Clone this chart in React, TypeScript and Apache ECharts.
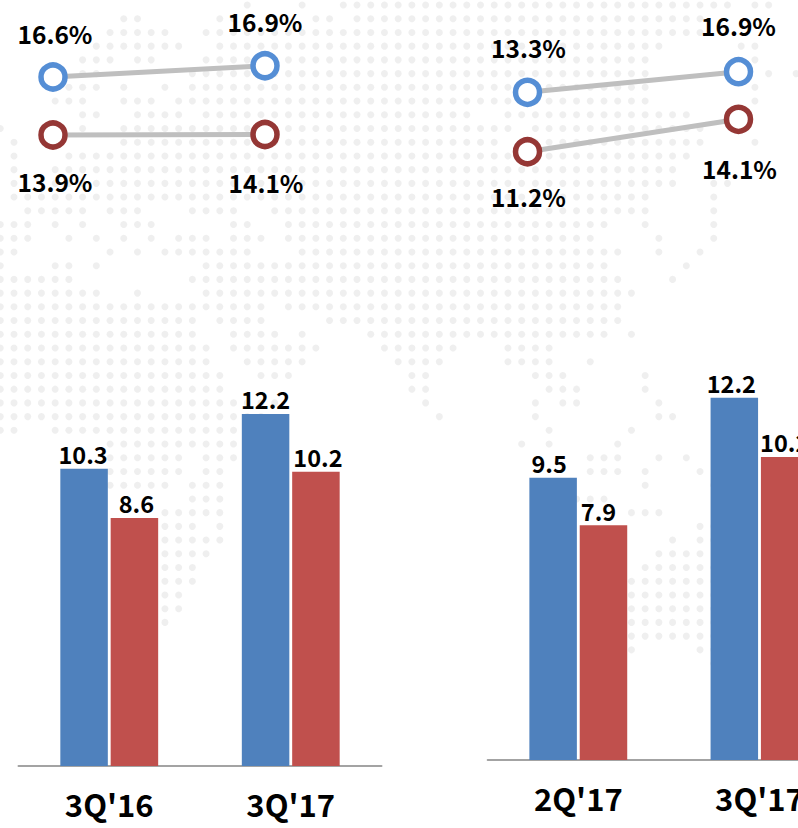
import React, { useEffect, useRef } from "react";
import * as echarts from "echarts";

const leftCategories = ["3Q'16", "3Q'17"];
const rightCategories = ["2Q'17", "3Q'17"];
const leftBlueBars = [10.3, 12.2];
const leftRedBars = [8.6, 10.2];
const rightBlueBars = [9.5, 12.2];
const rightRedBars = [7.9, 10.2];
const leftBlueRates = [16.6, 16.9];
const leftRedRates = [13.9, 14.1];
const rightBlueRates = [13.3, 16.9];
const rightRedRates = [11.2, 14.1];

// Background world-map dots: occupied column ranges for each dot row.
const mapRows = [
  "18,22,25-53,55,56",
  "9,10,16,17,23,24,26-51",
  "8-12,15-51",
  "7-13,16-48,54,55",
  "6-8,10,11,15-47,55",
  "6,7,14-47,56,58",
  "5-7,9,12,14-47,55",
  "4-6,9-11,13-47,55",
  "6,7,10-13,15-34,37-50",
  "0,6,9-37,39-51",
  "1,9-36,38-51,55",
  "1,5-50",
  "1,4-49",
  "1,4-49,52,53",
  "1-47,52",
  "2-6,8-10,14-17,20-47,52",
  "0-2,4,6,9-11,17,18,21-44,47,52",
  "0-2,5,7,9,11,13-15,17-19,21-43,48,52",
  "0,1,8,10,12-18,22-45,48,51",
  "0,4,5,7,15-44,50",
  "0-5,14-45,49",
  "0-7,10,15-46",
  "0-19,21-45",
  "0-14,16-19,24-45",
  "0-14,17-20,22,27-44,46",
  "0-15,17-23,28-33,37-40",
  "0-15,18-22,29-32,37-40,43",
  "0-16,19-21,30,31,39-41,47",
  "0-16,30,31,40-42,47",
  "0-20,31,39,41,42,48",
  "0-19,32,39,48,49",
  "0,1,4-17,40,46",
  "8-17,38,40,45",
  "8-13,15-17,43-45,48,50",
  "8-13,15,16,43-45,47,51",
  "8-12,14-16,47,52",
  "14-16,42-44",
  "12-16,46-48",
  "12-14,16,51,52",
  "12-16,49,51,52",
  "12-15,48-51",
  "12-14,47-52",
  "12-14,46-52",
  "12,13,46-52",
  "12,13,46-52",
  "12,46-52",
  "46-52",
  "46,51,52",
  "52",
];

const FONT = "'Noto Sans CJK KR', sans-serif";
const BLUE_BAR = "#4f81bd";
const RED_BAR = "#c0504d";
const BLUE_RING = "#558ed5";
const RED_RING = "#953735";

function expandMap(rows: string[]): number[][] {
  const out: number[][] = [];
  rows.forEach((row, r) => {
    row.split(",").forEach((part) => {
      const [a, b] = part.split("-").map(Number);
      for (let c = a; c <= (b ?? a); c++) out.push([c, r]);
    });
  });
  return out;
}

function buildOption() {
  const lineGrids = [
    { left: 53, width: 212, min: 13.335, max: 18.645 },
    { left: 53, width: 212, min: -12.1, max: 67.9 },
    { left: 527.5, width: 211, min: -5.53, max: 29.44 },
    { left: 527.5, width: 211, min: 6.88, max: 24.78 },
  ];
  const lineSeries = [
    { data: leftBlueRates, color: BLUE_RING, up: true, gaps: [17, 17], shift: [2, 0] },
    { data: leftRedRates, color: RED_RING, up: false, gaps: [19, 21], shift: [2, 1] },
    { data: rightBlueRates, color: BLUE_RING, up: true, gaps: [18, 19], shift: [1, 0] },
    { data: rightRedRates, color: RED_RING, up: false, gaps: [18, 22], shift: [1, 1] },
  ];

  const grids: any[] = [
    { left: 0, top: 0, width: 798, height: 828, outerBoundsMode: "none" },
    { left: 18.5, top: 304.4, width: 363, height: 461.6, outerBoundsMode: "none" },
    { left: 487.7, top: 284.8, width: 362.4, height: 475.2, outerBoundsMode: "none" },
    ...lineGrids.map((g) => ({
      left: g.left,
      top: 0,
      width: g.width,
      height: 200,
      outerBoundsMode: "none",
    })),
  ];

  const hidden = { show: false };
  const barX = (categories: string[], gridIndex: number) => ({
    type: "category",
    gridIndex,
    data: categories,
    axisTick: hidden,
    axisLine: { lineStyle: { color: "#a3a3a3", width: 2 } },
    axisLabel: {
      interval: 0,
      margin: 22,
      color: "#000",
      fontFamily: FONT,
      fontWeight: 700,
      fontSize: 31,
    },
  });

  const xAxis: any[] = [
    { type: "value", gridIndex: 0, min: -0.02, max: 58.14, ...hidden },
    barX(leftCategories, 1),
    barX(rightCategories, 2),
    ...lineGrids.map((_, i) => ({
      type: "category",
      gridIndex: 3 + i,
      boundaryGap: false,
      data: ["a", "b"],
      ...hidden,
    })),
  ];
  const yAxis: any[] = [
    { type: "value", gridIndex: 0, min: -0.364, max: 59.985, inverse: true, ...hidden },
    { type: "value", gridIndex: 1, min: 0, max: 16, ...hidden },
    { type: "value", gridIndex: 2, min: 0, max: 16, ...hidden },
    ...lineGrids.map((g, i) => ({
      type: "value",
      gridIndex: 3 + i,
      min: g.min,
      max: g.max,
      ...hidden,
    })),
  ];

  const barSeries = (data: number[], color: string, axis: number, shifts: number[]) => ({
    type: "bar",
    xAxisIndex: axis,
    yAxisIndex: axis,
    barWidth: 47.5,
    barGap: "6%",
    z: 3,
    itemStyle: { color },
    data: data.map((value, k) => ({
      value,
      label: {
        show: true,
        position: "top",
        distance: 3,
        offset: [shifts[k], 0],
        color: "#000",
        fontFamily: FONT,
        fontWeight: 700,
        fontSize: 23.5,
        formatter: value.toFixed(1),
      },
    })),
  });

  return {
    animation: false,
    backgroundColor: "#fff",
    grid: grids,
    xAxis,
    yAxis,
    series: [
      {
        type: "scatter",
        xAxisIndex: 0,
        yAxisIndex: 0,
        data: expandMap(mapRows),
        symbol: "circle",
        symbolSize: 7,
        silent: true,
        z: 1,
        itemStyle: { color: "#ebebeb" },
      },
      barSeries(leftBlueBars, BLUE_BAR, 1, [-1, 0]),
      barSeries(leftRedBars, RED_BAR, 1, [2, 2]),
      barSeries(rightBlueBars, BLUE_BAR, 2, [-4, -3]),
      barSeries(rightRedBars, RED_BAR, 2, [-5, 0]),
      ...lineSeries.map((s, i) => ({
        type: "line",
        xAxisIndex: 3 + i,
        yAxisIndex: 3 + i,
        z: 4,
        symbol: "circle",
        symbolSize: 24,
        showAllSymbol: true,
        lineStyle: { color: "#bfbfbf", width: 5 },
        itemStyle: { color: "#fff", borderColor: s.color, borderWidth: 5.5 },
        data: s.data.map((value, k) => ({
          value,
          label: {
            show: true,
            position: s.up ? "top" : "bottom",
            distance: s.gaps[k],
            offset: [s.shift[k], 0],
            color: "#000",
            fontFamily: FONT,
            fontWeight: 700,
            fontSize: 24.5,
            formatter: value.toFixed(1) + "%",
          },
        })),
      })),
    ],
  };
}

export default function App() {
  const ref = useRef<HTMLDivElement>(null);
  useEffect(() => {
    const chart = echarts.init(ref.current!, undefined, { renderer: "svg" });
    chart.setOption(buildOption() as any);
    return () => chart.dispose();
  }, []);
  return (
    <div
      ref={ref}
      style={{ position: "fixed", left: 0, top: 0, width: 798, height: 828, overflow: "hidden" }}
    />
  );
}
